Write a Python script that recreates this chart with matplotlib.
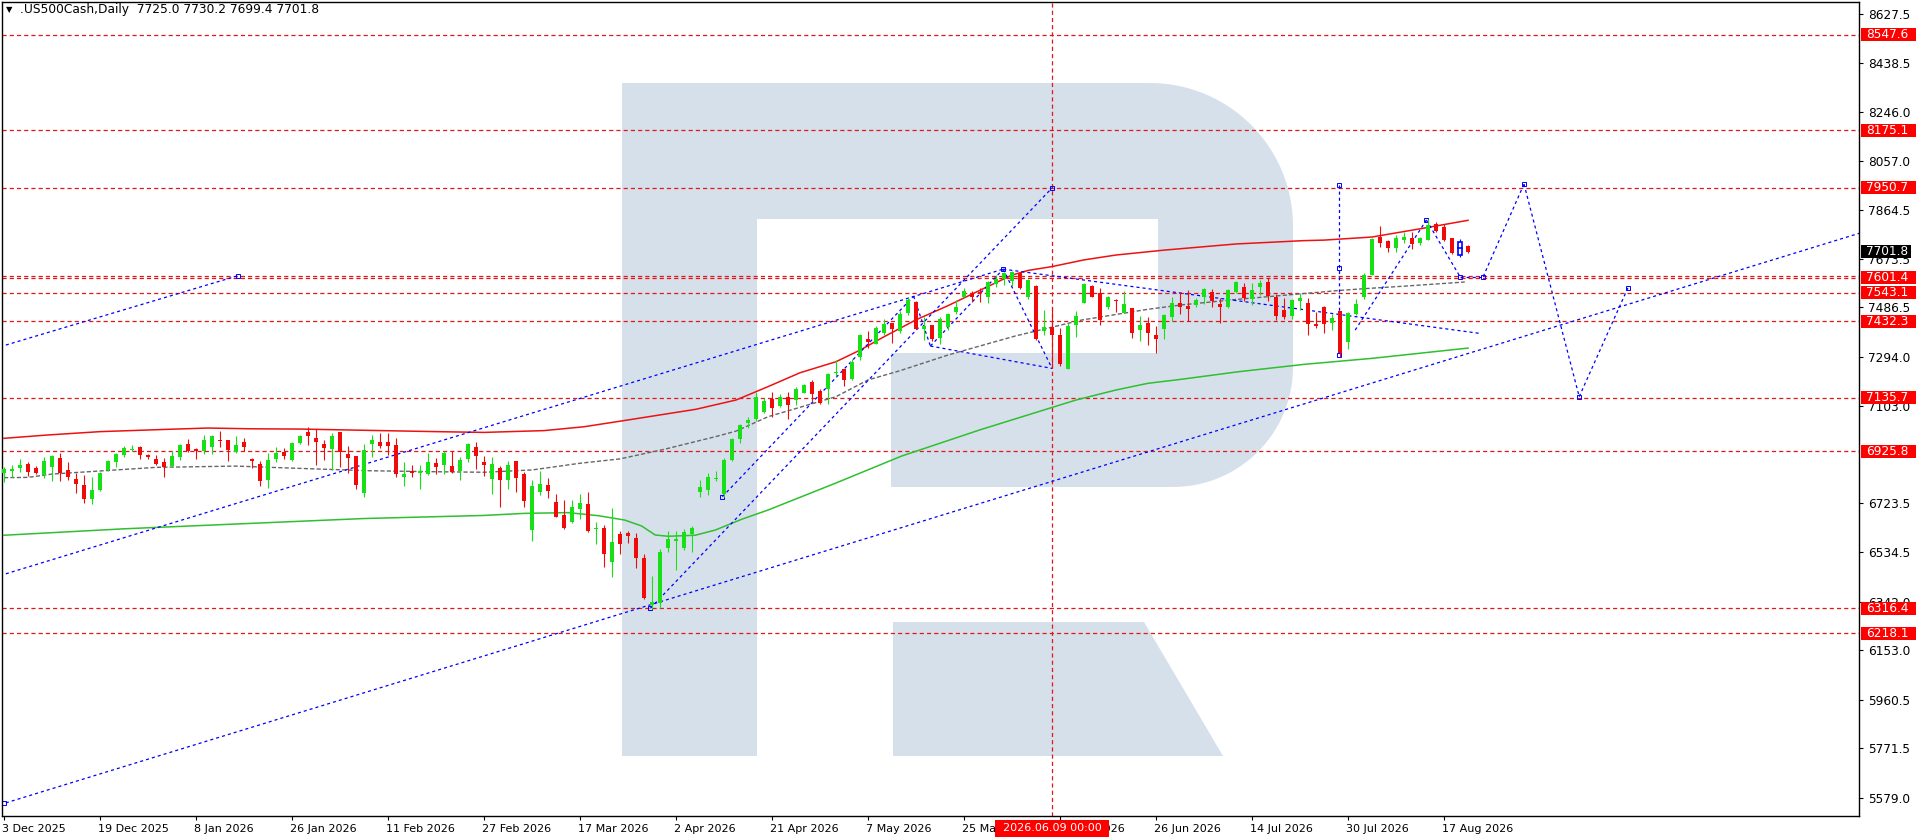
import numpy as np
import matplotlib
matplotlib.use('Agg')
import matplotlib.pyplot as plt
from matplotlib.patches import Rectangle, Polygon
import matplotlib.transforms as mtransforms

plt.rcParams['font.family'] = ['DejaVu Sans']
plt.rcParams['lines.scale_dashes'] = False

# ---------------- data ----------------
opens = [6841, 6851, 6863, 6877, 6860, 6834, 6867, 6899, 6854, 6819,
         6795, 6741, 6776, 6854, 6885, 6911, 6932, 6944, 6913, 6897,
         6885, 6871, 6906, 6955, 6936, 6926, 6945, 6971, 6971, 6924,
         6962, 6897, 6877, 6815, 6897, 6924, 6893, 6958, 7002, 6979,
         6955, 6936, 7002, 6916, 6908, 6766, 6953, 6963, 6963, 6952,
         6828, 6850, 6841, 6840, 6881, 6875, 6870, 6851, 6898, 6944,
         6885, 6819, 6861, 6815, 6889, 6838, 6620, 6769, 6795, 6729,
         6679, 6650, 6702, 6721, 6623, 6628, 6497, 6605, 6609, 6589,
         6511, 6327, 6335, 6552, 6576, 6552, 6605, 6769, 6776, 6819,
         6760, 6893, 6976, 7036, 7052, 7081, 7130, 7104, 7136, 7126,
         7154, 7196, 7161, 7169, 7231, 7247, 7208, 7295, 7363, 7345,
         7385, 7424, 7396, 7463, 7507, 7401, 7416, 7367, 7409, 7470,
         7528, 7544, 7547, 7528, 7577, 7598, 7589, 7620, 7527, 7569,
         7396, 7410, 7379, 7247, 7418, 7503, 7569, 7544, 7486, 7516,
         7466, 7483, 7398, 7424, 7379, 7403, 7450, 7502, 7492, 7494,
         7528, 7545, 7498, 7488, 7547, 7564, 7518, 7567, 7584, 7525,
         7476, 7454, 7512, 7502, 7422, 7487, 7424, 7472, 7353, 7461,
         7525, 7611, 7761, 7744, 7719, 7748, 7755, 7738, 7748, 7811,
         7799, 7756, 7742, 7725.0]
highs = [6867, 6873, 6896, 6886, 6870, 6903, 6912, 6919, 6884, 6841,
         6834, 6825, 6845, 6893, 6919, 6949, 6952, 6948, 6916, 6913,
         6901, 6926, 6955, 6975, 6941, 6988, 6991, 7006, 6971, 6987,
         6979, 6901, 6889, 6919, 6945, 6938, 6961, 6991, 7022, 7013,
         6971, 6997, 7002, 6949, 6908, 6953, 6989, 6997, 6998, 6979,
         6885, 6873, 6873, 6918, 6901, 6927, 6926, 6903, 6959, 6963,
         6908, 6906, 6871, 6889, 6889, 6847, 6815, 6850, 6821, 6760,
         6737, 6737, 6760, 6768, 6651, 6638, 6706, 6616, 6616, 6607,
         6527, 6441, 6548, 6615, 6615, 6624, 6634, 6815, 6841, 6850,
         6899, 6979, 7034, 7060, 7157, 7132, 7157, 7148, 7157, 7178,
         7188, 7204, 7168, 7232, 7282, 7247, 7286, 7381, 7394, 7415,
         7441, 7424, 7472, 7525, 7511, 7448, 7416, 7448, 7464, 7515,
         7560, 7550, 7563, 7588, 7611, 7623, 7629, 7624, 7595, 7572,
         7476, 7486, 7405, 7427, 7474, 7582, 7572, 7560, 7531, 7519,
         7550, 7483, 7454, 7448, 7414, 7461, 7528, 7545, 7554, 7523,
         7560, 7557, 7524, 7557, 7590, 7580, 7580, 7593, 7601, 7538,
         7521, 7520, 7541, 7521, 7470, 7492, 7459, 7472, 7468, 7518,
         7619, 7756, 7804, 7748, 7768, 7780, 7780, 7761, 7830, 7818,
         7811, 7757, 7751, 7730.2]
lows = [6808, 6828, 6847, 6831, 6838, 6824, 6811, 6811, 6815, 6766,
        6727, 6720, 6773, 6851, 6867, 6906, 6926, 6896, 6897, 6872,
        6828, 6864, 6893, 6922, 6897, 6916, 6916, 6945, 6890, 6919,
        6926, 6860, 6792, 6785, 6883, 6897, 6889, 6955, 6952, 6874,
        6893, 6854, 6867, 6844, 6781, 6750, 6903, 6941, 6914, 6828,
        6793, 6828, 6779, 6836, 6837, 6837, 6841, 6815, 6883, 6859,
        6830, 6760, 6711, 6780, 6769, 6711, 6579, 6758, 6745, 6670,
        6625, 6649, 6664, 6614, 6566, 6478, 6439, 6527, 6571, 6474,
        6353, 6312, 6318, 6536, 6465, 6542, 6535, 6747, 6756, 6811,
        6747, 6889, 6960, 7016, 7046, 7074, 7058, 7097, 7052, 7108,
        7152, 7123, 7110, 7112, 7221, 7180, 7204, 7282, 7328, 7344,
        7379, 7349, 7385, 7457, 7401, 7359, 7357, 7344, 7398, 7459,
        7525, 7509, 7509, 7505, 7567, 7572, 7571, 7557, 7519, 7359,
        7379, 7249, 7260, 7245, 7372, 7502, 7525, 7418, 7479, 7468,
        7463, 7366, 7357, 7341, 7310, 7365, 7435, 7461, 7433, 7487,
        7499, 7489, 7427, 7483, 7541, 7512, 7497, 7533, 7512, 7437,
        7442, 7440, 7476, 7379, 7405, 7388, 7398, 7295, 7323, 7457,
        7519, 7611, 7722, 7702, 7702, 7738, 7713, 7730, 7748, 7781,
        7743, 7693, 7684, 7699.4]
closes = [6858, 6857, 6873, 6847, 6841, 6888, 6910, 6841, 6828, 6801,
          6742, 6776, 6842, 6889, 6916, 6938, 6936, 6913, 6906, 6877,
          6864, 6909, 6952, 6926, 6926, 6971, 6987, 6967, 6932, 6950,
          6944, 6887, 6812, 6893, 6919, 6910, 6958, 6987, 6987, 6963,
          6941, 6987, 6922, 6902, 6795, 6932, 6971, 6948, 6948, 6840,
          6840, 6844, 6850, 6885, 6867, 6920, 6846, 6893, 6955, 6910,
          6874, 6878, 6815, 6873, 6824, 6734, 6791, 6799, 6773, 6672,
          6629, 6708, 6724, 6618, 6626, 6528, 6575, 6567, 6598, 6510,
          6357, 6340, 6535, 6585, 6585, 6613, 6630, 6786, 6825, 6824,
          6893, 6974, 7029, 7048, 7136, 7122, 7096, 7136, 7107, 7169,
          7184, 7151, 7116, 7227, 7234, 7204, 7274, 7379, 7353, 7406,
          7422, 7402, 7461, 7515, 7403, 7414, 7362, 7441, 7461, 7488,
          7550, 7527, 7541, 7585, 7595, 7619, 7624, 7560, 7593, 7362,
          7410, 7380, 7266, 7414, 7453, 7579, 7528, 7438, 7525, 7512,
          7499, 7387, 7418, 7388, 7365, 7457, 7502, 7489, 7481, 7515,
          7558, 7511, 7487, 7554, 7585, 7521, 7554, 7580, 7532, 7454,
          7448, 7515, 7524, 7423, 7415, 7423, 7446, 7310, 7463, 7499,
          7611, 7751, 7737, 7719, 7755, 7761, 7733, 7757, 7807, 7785,
          7748, 7697, 7690, 7701.8]
marked_bar = 182          # candle drawn as a blue outline

date_tick_bars = [0, 12, 24, 36, 48, 60, 72, 84, 96, 108, 120, 132, 144, 156, 168, 180]
date_tick_labels = ['3 Dec 2025', '19 Dec 2025', '8 Jan 2026', '26 Jan 2026', '11 Feb 2026',
                    '27 Feb 2026', '17 Mar 2026', '2 Apr 2026', '21 Apr 2026', '7 May 2026',
                    '25 May 2026', '10 Jun 2026', '26 Jun 2026', '14 Jul 2026', '30 Jul 2026',
                    '17 Aug 2026']
price_ticks = [8627.5, 8438.5, 8246.0, 8057.0, 7864.5, 7673.5, 7486.5, 7294.0, 7103.0,
               6723.5, 6534.5, 6342.0, 6153.0, 5960.5, 5771.5, 5579.0]
level_prices = [8547.6, 8175.1, 7950.7, 7601.4, 7543.1, 7432.3, 7135.7, 6925.8, 6316.4, 6218.1]
extra_levels = [7609.0]
last_price = 7701.8
cursor_bar = 131
cursor_text = '2026.06.09 00:00'
title_text = '.US500Cash,Daily  7725.0 7730.2 7699.4 7701.8'

ma_red_x = [0, 5.5, 12, 20.5, 25.5, 31, 37, 45.5, 54, 60, 67.5, 72.5, 77.5, 82, 86.5, 91.5,
            95.5, 99.5, 104, 107, 110, 114, 118, 122, 126, 128, 131, 135, 139, 145, 154,
            162.5, 165, 171, 177, 183]
ma_red_y = [6977, 6990, 7003, 7012, 7017, 7014, 7013, 7008, 7003, 7000, 7007, 7022, 7046, 7068,
            7090, 7126, 7178, 7232, 7275, 7320, 7372, 7438, 7493, 7553, 7612, 7630, 7645, 7671,
            7690, 7709, 7733, 7746, 7748, 7760, 7792, 7825]
ma_gray_x = [0, 3, 6, 12, 19, 29, 37, 45.5, 54, 60, 66, 72, 77, 82.5, 89, 91.5, 95.5, 104, 108,
             112, 118, 126.4, 134.7, 143, 147.2, 154.3, 164.3, 166.8, 170.5, 175.1, 182.6]
ma_gray_y = [6824, 6825, 6838, 6850, 6864, 6869, 6860, 6851, 6847, 6845, 6854, 6880, 6897, 6934,
             6984, 7005, 7061, 7139, 7204, 7240, 7301, 7375, 7437, 7479, 7496, 7518, 7545, 7552,
             7560, 7569, 7585]
ma_green_x = [0, 15, 30, 45, 60, 65, 70.5, 74.3, 77.6, 79.7, 81.4, 83, 86.4, 88.9, 92.2, 95.5,
              103.9, 112.2, 122, 134, 139, 143, 147, 154.3, 162.6, 171, 183]
ma_green_y = [6600, 6625, 6645, 6665, 6677, 6685, 6688, 6676, 6659, 6636, 6601, 6596, 6600, 6620,
              6662, 6698, 6802, 6908, 7010, 7126, 7165, 7191, 7206, 7236, 7265, 7288, 7328]

# blue analysis lines: (bar0, price0, bar1, price1)
trend_segments = [
    (-0.5, 7333, 29.3, 7610),
    (-0.5, 6443, 124.9, 7635),
    (-0.5, 5552, 233.0, 7785),
    (80.8, 6316, 131.0, 7950.7),
    (89.8, 6750, 113.7, 7530),
    (113.7, 7530, 115.8, 7336),
    (115.8, 7336, 124.9, 7635),
    (115.8, 7336, 131.0, 7249),
    (124.9, 7635, 131.0, 7249),
    (124.9, 7635, 184.5, 7385),
    (166.9, 7962, 166.9, 7301),
    (168.9, 7398, 177.8, 7826),
    (177.8, 7826, 182.0, 7606),
    (182.0, 7606, 184.9, 7606),
    (184.9, 7606, 190.0, 7966),
    (190.0, 7966, 196.9, 7139),
    (196.9, 7139, 203.0, 7563),
]
# small anchor squares of the drawn objects
anchor_bars = [29.3, 131.0, 166.9, 166.9, 166.9, 177.8, 182.0, 184.9, 190.0, 196.9, 203.0,
               80.8, 89.8, 124.9, 0.0]
anchor_prices = [7610, 7950.7, 7962, 7638, 7301, 7826, 7606, 7606, 7966, 7139, 7563,
                 6316, 6750, 7635, 5560]

# ---------------- figure ----------------
W, H = 1916, 840
fig = plt.figure(figsize=(W / 100, H / 100), dpi=100, facecolor='white')

# watermark layer (figure pixel space)
bg = fig.add_axes([0, 0, 1, 1], zorder=0)
bg.set_xlim(0, W)
bg.set_ylim(H, 0)
bg.axis('off')
wm = '#d6e0eb'
bg.add_patch(Rectangle((622, 83), 135, 673, facecolor=wm, edgecolor='none'))
pts = [(757, 83), (1150, 83)]
for t in np.linspace(0, np.pi / 2, 30):
    pts.append((1150 + 143 * np.sin(t), 226 - 143 * np.cos(t)))
pts.append((1293, 367))
for t in np.linspace(0, np.pi / 2, 30):
    pts.append((1173 + 120 * np.cos(t), 367 + 120 * np.sin(t)))
pts += [(891, 487), (891, 353), (1158, 353), (1158, 219), (757, 219)]
bg.add_patch(Polygon(pts, closed=True, facecolor=wm, edgecolor='none'))
bg.add_patch(Polygon([(893, 622), (1144, 622), (1223, 756), (893, 756)], closed=True,
                     facecolor=wm, edgecolor='none'))

# main chart axes
L, T, R, B = 2, 2, 1859, 816
ax = fig.add_axes([L / W, (H - B) / H, (R - L) / W, (B - T) / H], zorder=1)
ax.patch.set_alpha(0)
ax.set_xlim((L - 4) / 8, (R - 4) / 8)
ax.set_ylim(5507.9, 8674.2)
for s in ax.spines.values():
    s.set_color('black')
    s.set_linewidth(1.0)

red_c = '#e01818'
dash_red = (0, (3.0, 2.2))
dash_blue = (0, (2.2, 2.2))

# horizontal levels
for p in level_prices + extra_levels:
    ax.axhline(p, color=red_c, lw=0.9, linestyle=dash_red, zorder=1)
ax.axvline(cursor_bar, color=red_c, lw=0.9, linestyle=dash_red, zorder=1)

# moving averages
ax.plot(ma_green_x, ma_green_y, color='#2fbf2f', lw=1.1, zorder=2)
ax.plot(ma_red_x, ma_red_y, color='#ee1111', lw=1.1, zorder=2)
ax.plot(ma_gray_x, ma_gray_y, color='#666666', lw=1.0, linestyle=(0, (3.0, 1.6)), zorder=2)

# blue lines
for x0, y0, x1, y1 in trend_segments:
    ax.plot([x0, x1], [y0, y1], color='#0000ff', lw=0.9, linestyle=dash_blue, zorder=2)
ax.plot(anchor_bars, anchor_prices, linestyle='none', marker='s', markersize=2.4,
        markerfacecolor='none', markeredgecolor='#0000ff', markeredgewidth=0.7, zorder=2.5)

# candles
o = np.array(opens, float); h = np.array(highs, float)
lo = np.array(lows, float); c = np.array(closes, float)
idx = np.arange(len(o))
up = c >= o
cols = np.where(up, '#17e017', '#f00a0a').astype(object)
cols[marked_bar] = '#0000ff'
ax.vlines(idx, lo, h, colors=list(cols), lw=0.8, zorder=3)
bottoms = np.minimum(o, c)
heights = np.maximum(np.abs(c - o), 4.0)
normal = idx != marked_bar
ax.bar(idx[normal], heights[normal], bottom=bottoms[normal], width=0.62,
       color=list(cols[normal]), edgecolor='none', zorder=4)
ax.bar([marked_bar], [heights[marked_bar]], bottom=[bottoms[marked_bar]], width=0.5,
       facecolor='white', edgecolor='#0000ff', linewidth=1.2, zorder=4)
ax.plot([marked_bar - 0.25, marked_bar + 0.25], [(o[marked_bar] + c[marked_bar]) / 2] * 2,
        color='#0000ff', lw=1.2, zorder=5)

# axes ticks
ax.yaxis.tick_right()
ax.set_yticks(price_ticks)
ax.set_yticklabels([f'{v:.1f}' for v in price_ticks])
ax.tick_params(axis='y', direction='out', length=3, width=0.8, pad=3.5, labelsize=8.7,
               colors='black')
ax.set_xticks(date_tick_bars)
ax.set_xticklabels(date_tick_labels)
ax.tick_params(axis='x', direction='out', length=3, width=0.8, pad=2.5, labelsize=8,
               colors='black')
shift = mtransforms.ScaledTranslation(-2 / 100, 0, fig.dpi_scale_trans)
for lbl in ax.get_xticklabels():
    lbl.set_ha('left')
    lbl.set_transform(lbl.get_transform() + shift)

# price labels (boxes)
ytr = ax.get_yaxis_transform()
bx0 = (1861 - L) / (R - L)
bw = 60 / (R - L)
tx = (1866 - L) / (R - L)
box_h = 13 * 3.89
for p in level_prices:
    ax.add_patch(Rectangle((bx0, p - box_h / 2), bw, box_h, transform=ytr, clip_on=False,
                           facecolor='#ff0000', edgecolor='none', zorder=6))
    ax.text(tx, p, f'{p:.1f}', transform=ytr, color='white', fontsize=8.7, va='center',
            ha='left', clip_on=False, zorder=7)
ax.add_patch(Rectangle((bx0, last_price - box_h / 2), 50 / (R - L), box_h, transform=ytr,
                       clip_on=False, facecolor='black', edgecolor='none', zorder=6))
ax.text(tx, last_price, f'{last_price:.1f}', transform=ytr, color='white', fontsize=8.7,
        va='center', ha='left', clip_on=False, zorder=7)

# cursor date label
xtr = ax.get_xaxis_transform()
ax.add_patch(Rectangle((cursor_bar - 7.1, -0.0258), 14.25, 0.0209, transform=xtr,
                       clip_on=False, facecolor='#ff0000', edgecolor='none', zorder=6))
ax.text(cursor_bar, -0.0153, cursor_text, transform=xtr, color='white', fontsize=8,
        va='center', ha='center', clip_on=False, zorder=7)

# title
ax.text((6 - L) / (R - L), 1 - (10 - T) / (B - T), '\u25BC', transform=ax.transAxes,
        fontsize=6, va='center', ha='left', color='black', zorder=7)
ax.text((20 - L) / (R - L), 1 - (10 - T) / (B - T), title_text, transform=ax.transAxes,
        fontsize=8.8, va='center', ha='left', color='black', zorder=7)

fig.savefig('out.png', dpi=100, facecolor='white')
